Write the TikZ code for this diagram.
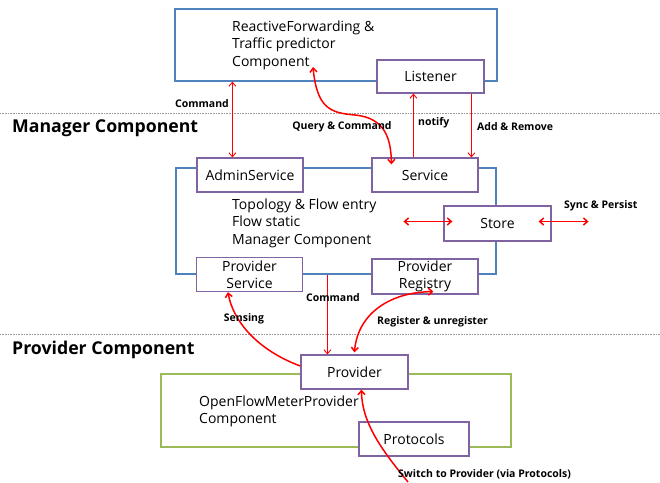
\documentclass[tikz,border=0pt]{standalone}
\usepackage{fontspec}
\setmainfont{Open Sans}
\usetikzlibrary{arrows.meta, positioning, calc}

\definecolor{blueline}{RGB}{79,129,189}
\definecolor{purpleline}{RGB}{128,100,162}
\definecolor{greenline}{RGB}{155,187,89}

\newcommand\boxfont{\fontsize{14}{17.5}\selectfont}
\newcommand\lblfont{\fontsize{10.5}{12}\selectfont\bfseries}
\newcommand\headfont{\fontsize{17.7}{20}\selectfont\bfseries}

\begin{document}
\begin{tikzpicture}[x=1pt, y=-1pt,
    >={Straight Barb[length=4pt,width=7pt]},
    compbox/.style={draw=#1, line width=1.2pt, fill=white, inner sep=0pt},
    partbox/.style={draw=purpleline, line width=1.2pt, fill=white, minimum width=106pt, minimum height=34pt, inner sep=0pt, font=\boxfont, align=center},
    thinarr/.style={draw=red, line width=0.9pt},
    thickarr/.style={draw=red, line width=1.5pt},
    lbl/.style={font=\lblfont, inner sep=0pt},
    sepline/.style={draw=gray!80, densely dotted, line width=0.6pt}]
  \useasboundingbox (0,0) rectangle (660,482);

  % top component
  \node[compbox=blueline, minimum width=322pt, minimum height=72pt] (rfbox) at (336,45) {};
  \node[anchor=west, align=left, font=\boxfont, inner sep=0pt] (rftext) at (232,45) {ReactiveForwarding \&\\Traffic predictor\\Component};
  \node[partbox, minimum width=107pt, minimum height=33pt] (listener) at (430.5,76.5) {Listener};

  \draw[sepline] (0,113) -- (660,113);
  \node[anchor=west, font=\headfont, inner sep=0pt] (mgrlabel) at (12,128) {Manager Component};

  % manager component
  \node[compbox=blueline, minimum width=320pt, minimum height=106pt] (mgrbox) at (336,221) {};
  \node[anchor=west, align=left, font=\boxfont, inner sep=0pt] (mgrtext) at (232,223) {Topology \& Flow entry\\Flow static\\Manager Component};
  \node[partbox] (admin) at (250,175) {AdminService};
  \node[partbox] (service) at (425,175) {Service};
  \node[partbox, minimum width=107pt, minimum height=35pt] (store) at (497.5,223.5) {Store};
  \node[partbox] (psvc) at (249.5,274.5) {Provider\\[-1pt]Service};
  \node[partbox, minimum height=35pt] (preg) at (425,276.5) {Provider\\[-1pt]Registry};

  \draw[sepline] (0,334) -- (660,334);
  \node[anchor=west, font=\headfont, inner sep=0pt] (provlabel) at (12,350) {Provider Component};

  % provider component
  \node[compbox=greenline, minimum width=350pt, minimum height=73pt] (ofbox) at (336,410.5) {};
  \node[anchor=west, align=left, font=\boxfont, inner sep=0pt] (oftext) at (199,411.5) {OpenFlowMeterProvider\\Component};
  \node[partbox, minimum width=107pt] (provider) at (354.5,372) {Provider};
  \node[partbox, minimum width=110pt] (protocols) at (414,439) {Protocols};

  % connectors
  \coordinate (cmdA) at ($(admin.north west)+(36,0)$);
  \draw[thinarr, <->] (rfbox.south -| cmdA) -- (cmdA);
  \node[lbl, anchor=east] (cmdAlbl) at (229,104) {Command};

  \coordinate (qc) at (313,67);
  \draw[thickarr, <->] (qc) .. controls (317,108) and (330,113) .. (355,115)
    .. controls (386,118) and (391,140) .. ($(service.north west)+(20,7)$);
  \node[lbl] (qclbl) at (342,127) {Query \& Command};

  \coordinate (nf) at ($(listener.south west)+(37,0)$);
  \draw[thinarr, ->] (service.north -| nf) -- (nf);
  \node[lbl, anchor=west] (nflbl) at (418,123) {notify};

  \coordinate (ar) at ($(listener.south west)+(95,0)$);
  \draw[thinarr, ->] (ar) -- (service.north -| ar);
  \node[lbl, anchor=west] (arlbl) at (477,127) {Add \& Remove};

  \draw[thickarr, <->] ($(store.west)+(-40,-2)$) -- ($(store.west)+(9,-2)$);
  \draw[thickarr, <->] ($(store.east)+(-13,-2)$) -- ($(store.east)+(37,-2)$);
  \node[lbl, anchor=west] (synclbl) at (564,206) {Sync \& Persist};

  \coordinate (cmdB) at ($(provider.north west)+(27,0)$);
  \draw[thinarr, ->] (mgrbox.south -| cmdB) -- (cmdB);
  \node[lbl] (cmdBlbl) at (333,298) {Command};

  \draw[thickarr, ->] ($(provider.west)+(0,-6)$) .. controls (262,352) and (234,325) .. ($(psvc.south west)+(32,0)$);
  \node[lbl] (senslbl) at (244,319) {Sensing};

  \draw[thickarr, <->] ($(provider.north west)+(54,-2)$) .. controls (358,312) and (392,292) .. ($(preg.south west)+(62,-3)$);
  \node[lbl, anchor=west] (reglbl) at (377,322) {Register \& unregister};

  \coordinate (sw) at (408,482);
  \draw[thickarr, ->] (sw) .. controls (380,448) and (362,422) .. ($(provider.south west)+(61,0)$);
  \node[lbl, anchor=west] (swlbl) at (398,474) {Switch to Provider (via Protocols)};
\end{tikzpicture}
\end{document}
